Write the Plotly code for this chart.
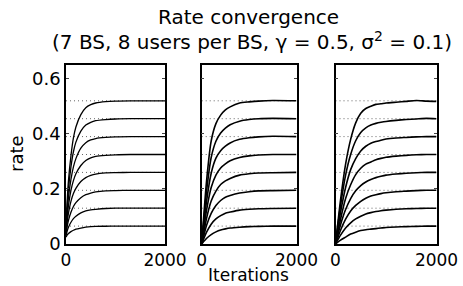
import plotly.graph_objects as go

# ---------------- data ----------------
asymptotes = [0.52, 0.455, 0.39, 0.325, 0.26, 0.195, 0.13, 0.065]

iters_p1 = [0, 25, 50, 100, 150, 200, 300, 400, 500, 600, 800, 1000, 1300, 2000]
rates_p1 = [
    [0.06, 0.16, 0.23, 0.32, 0.385, 0.425, 0.47, 0.495, 0.506, 0.512, 0.517, 0.519, 0.52, 0.52],
    [0.055, 0.14, 0.2, 0.28, 0.335, 0.37, 0.41, 0.432, 0.442, 0.448, 0.452, 0.454, 0.455, 0.455],
    [0.05, 0.12, 0.17, 0.235, 0.28, 0.31, 0.348, 0.368, 0.378, 0.383, 0.387, 0.389, 0.39, 0.39],
    [0.045, 0.1, 0.14, 0.195, 0.23, 0.255, 0.285, 0.303, 0.313, 0.318, 0.322, 0.324, 0.325, 0.325],
    [0.04, 0.082, 0.112, 0.155, 0.183, 0.202, 0.227, 0.241, 0.249, 0.254, 0.258, 0.259, 0.26, 0.26],
    [0.035, 0.065, 0.086, 0.115, 0.136, 0.15, 0.168, 0.179, 0.185, 0.189, 0.193, 0.194, 0.195, 0.195],
    [0.03, 0.048, 0.061, 0.079, 0.092, 0.101, 0.113, 0.12, 0.124, 0.126, 0.129, 0.13, 0.13, 0.13],
    [0.025, 0.033, 0.038, 0.045, 0.05, 0.054, 0.058, 0.061, 0.063, 0.064, 0.0645, 0.065, 0.065, 0.065],
]

iters_p2 = [0, 100, 200, 300, 400, 500, 600, 800, 1000, 1200, 1500, 2000]
rates_p2 = [
    [0, 0.224, 0.374, 0.437, 0.468, 0.487, 0.498, 0.512, 0.516, 0.519, 0.521, 0.52],
    [0, 0.187, 0.314, 0.373, 0.403, 0.421, 0.433, 0.446, 0.452, 0.455, 0.456, 0.455],
    [0, 0.152, 0.257, 0.312, 0.339, 0.355, 0.367, 0.38, 0.386, 0.389, 0.391, 0.39],
    [0, 0.12, 0.205, 0.25, 0.276, 0.291, 0.302, 0.314, 0.32, 0.323, 0.325, 0.325],
    [0, 0.091, 0.156, 0.192, 0.216, 0.229, 0.238, 0.25, 0.255, 0.258, 0.259, 0.26],
    [0, 0.066, 0.111, 0.14, 0.158, 0.17, 0.176, 0.185, 0.19, 0.193, 0.194, 0.195],
    [0, 0.042, 0.072, 0.091, 0.103, 0.112, 0.116, 0.123, 0.126, 0.128, 0.129, 0.13],
    [0, 0.02, 0.034, 0.044, 0.051, 0.055, 0.058, 0.061, 0.063, 0.064, 0.065, 0.065],
]

iters_p3 = [0, 100, 200, 300, 400, 500, 600, 700, 800, 900, 1000, 1200, 1400, 1600, 1800, 2000]
rates_p3 = [
    [0, 0.16, 0.29, 0.38, 0.44, 0.475, 0.492, 0.50, 0.507, 0.509, 0.512, 0.515, 0.518, 0.521, 0.519, 0.518],
    [0, 0.14, 0.25, 0.325, 0.375, 0.405, 0.422, 0.432, 0.438, 0.442, 0.445, 0.449, 0.452, 0.454, 0.456, 0.455],
    [0, 0.115, 0.205, 0.27, 0.31, 0.338, 0.355, 0.366, 0.372, 0.377, 0.381, 0.385, 0.387, 0.389, 0.39, 0.39],
    [0, 0.09, 0.165, 0.215, 0.252, 0.275, 0.29, 0.298, 0.306, 0.311, 0.315, 0.319, 0.322, 0.324, 0.325, 0.325],
    [0, 0.07, 0.125, 0.165, 0.193, 0.212, 0.225, 0.234, 0.241, 0.246, 0.25, 0.254, 0.257, 0.259, 0.26, 0.26],
    [0, 0.05, 0.09, 0.12, 0.14, 0.155, 0.166, 0.174, 0.179, 0.183, 0.186, 0.19, 0.192, 0.194, 0.195, 0.195],
    [0, 0.032, 0.058, 0.077, 0.091, 0.101, 0.109, 0.114, 0.118, 0.121, 0.123, 0.126, 0.128, 0.129, 0.13, 0.13],
    [0, 0.014, 0.025, 0.036, 0.043, 0.049, 0.052, 0.054, 0.056, 0.058, 0.06, 0.062, 0.063, 0.064, 0.065, 0.065],
]

x_range = [0, 2000]
y_range = [0, 0.65]
x_ticks = [0, 2000]
y_ticks = [0, 0.2, 0.4, 0.6]
y_tick_labels = ["0", "0.2", "0.4", "0.6"]

title_1 = "Rate convergence"
title_2 = "(7 BS, 8 users per BS, \u03b3 = 0.5, \u03c3<sup>2</sup> = 0.1)"
x_title = "Iterations"
y_title = "rate"

# ---------------- figure ----------------
W, H = 463, 286
FONT = "DejaVu Sans"
panels_px = [(66, 165), (201.7, 296.5), (335.5, 436.5)]
top_px, bot_px = 65, 244

fig = go.Figure()
panel_data = [(iters_p1, rates_p1, 1.3), (iters_p2, rates_p2, 1.6), (iters_p3, rates_p3, 1.6)]

for k, (xs, curves, lw) in enumerate(panel_data):
    xa = "x" if k == 0 else f"x{k+1}"
    ya = "y" if k == 0 else f"y{k+1}"
    for a in asymptotes:
        fig.add_trace(go.Scatter(x=x_range, y=[a, a], mode="lines", xaxis=xa, yaxis=ya,
                                 line=dict(color="#666666", width=1, dash="1px,3px"),
                                 showlegend=False, hoverinfo="skip"))
    for c in curves:
        fig.add_trace(go.Scatter(x=xs, y=c, mode="lines", xaxis=xa, yaxis=ya,
                                 line=dict(color="black", width=lw, shape="spline", smoothing=0.6),
                                 showlegend=False))

layout = dict(width=W, height=H, margin=dict(l=0, r=0, t=0, b=0, autoexpand=False),
              paper_bgcolor="white", plot_bgcolor="white",
              font=dict(family=FONT, size=17, color="black"))
ydom = [1 - bot_px / H, 1 - top_px / H]
for k, (l, r) in enumerate(panels_px):
    xkey = "xaxis" if k == 0 else f"xaxis{k+1}"
    ykey = "yaxis" if k == 0 else f"yaxis{k+1}"
    layout[xkey] = dict(domain=[l / W, r / W], range=x_range, tickvals=x_ticks,
                        ticktext=[str(v) for v in x_ticks], ticks="inside", ticklen=3,
                        showline=True, linecolor="black", linewidth=1.5, mirror="ticks",
                        showgrid=False, zeroline=False, tickfont=dict(size=17),
                        automargin=False,
                        anchor="y" if k == 0 else f"y{k+1}", fixedrange=True)
    layout[ykey] = dict(domain=ydom, range=y_range, tickvals=y_ticks, ticktext=y_tick_labels,
                        ticks="inside", ticklen=3, showticklabels=(k == 0),
                        showline=True, linecolor="black", linewidth=1.5, mirror="ticks",
                        showgrid=False, zeroline=False, tickfont=dict(size=18),
                        automargin=False,
                        anchor="x" if k == 0 else f"x{k+1}", fixedrange=True)

fig.update_layout(**layout)

fig.add_annotation(text=title_1, xref="paper", yref="paper", x=248 / W, y=1 - 17 / H,
                   showarrow=False, font=dict(size=20), xanchor="center", yanchor="middle")
fig.add_annotation(text=title_2, xref="paper", yref="paper", x=252 / W, y=1 - 41 / H,
                   showarrow=False, font=dict(size=20), xanchor="center", yanchor="middle")
fig.add_annotation(text=x_title, xref="paper", yref="paper", x=249 / W, y=1 - 285.5 / H,
                   showarrow=False, font=dict(size=17), xanchor="center", yanchor="bottom",
                   borderpad=0)
fig.add_annotation(text=y_title, xref="paper", yref="paper", x=16 / W, y=1 - 154 / H,
                   showarrow=False, font=dict(size=18), textangle=-90,
                   xanchor="center", yanchor="middle")

fig.write_html("out.html", config={"displayModeBar": False},
               post_script="document.body.style.margin='0';document.body.style.overflow='hidden';")
